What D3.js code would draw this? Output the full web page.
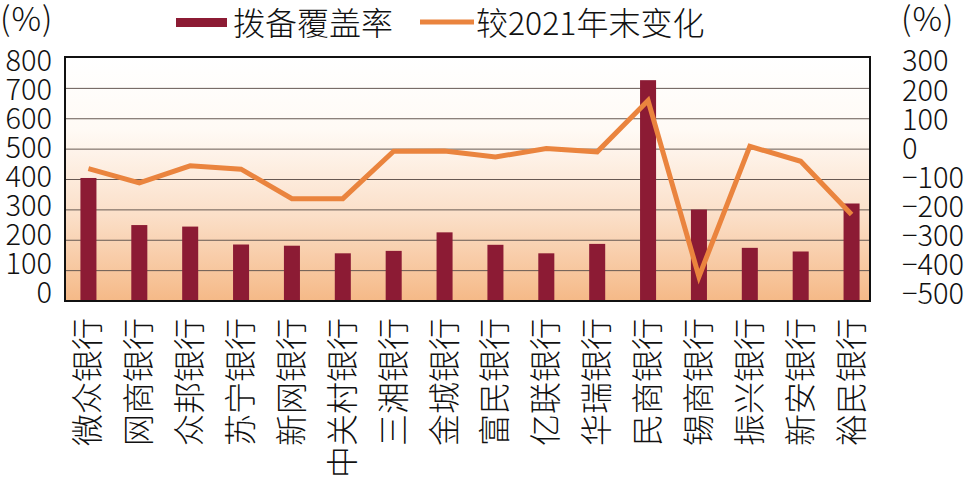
<!DOCTYPE html>
<html>
<head>
<meta charset="utf-8">
<script src="https://cdn.jsdelivr.net/npm/d3@7"></script>
<style>
  html, body { margin: 0; padding: 0; background: #fff; }
  svg { display: block; }
  text { font-family: "Noto Sans CJK SC", "Noto Sans", sans-serif; font-weight: 300; fill: #111; }
</style>
</head>
<body>
<svg class="chart"></svg>
<script>
var banks = ["微众银行", "网商银行", "众邦银行", "苏宁银行", "新网银行", "中关村银行", "三湘银行", "金城银行",
             "富民银行", "亿联银行", "华瑞银行", "民商银行", "锡商银行", "振兴银行", "新安银行", "裕民银行"];
// 拨备覆盖率 (%)
var coverage = [405, 250, 245, 186, 182, 157, 165, 226, 185, 157, 188, 727, 301, 175, 163, 321];
// 较2021年末变化 (百分点)
var change = [-64, -111, -55, -66, -163, -163, -7, -6, -26, 2, -9, 160, -420, 9, -40, -215];

var leftTicks = [0, 100, 200, 300, 400, 500, 600, 700, 800];
var rightTicks = [-500, -400, -300, -200, -100, 0, 100, 200, 300];
var legendNames = ["拨备覆盖率", "较2021年末变化"];

var width = 975, height = 479;
var frame = {left: 65, right: 870, top: 57, bottom: 301};

var barColor = "#8c1b34";
var lineColor = "#ea843e";

var svg = d3.select(".chart").attr("width", width).attr("height", height);

var grad = svg.append("defs").append("linearGradient")
    .attr("id", "bg").attr("x1", 0).attr("y1", 0).attr("x2", 0).attr("y2", 1);
grad.append("stop").attr("offset", "0%").attr("stop-color", "#ffffff");
grad.append("stop").attr("offset", "30%").attr("stop-color", "#fffaf5");
grad.append("stop").attr("offset", "65%").attr("stop-color", "#fbdfc8");
grad.append("stop").attr("offset", "100%").attr("stop-color", "#f5b987");

var x = d3.scaleBand().domain(banks).range([63, 877]).paddingInner(0.685).paddingOuter(0.3425);
var yL = d3.scaleLinear().domain([0, 800]).range([frame.bottom, 58]);
var yR = d3.scaleLinear().domain([-500, 300]).range([frame.bottom, 58]);
// tick labels sit a little tighter than the grid
var yLabL = d3.scaleLinear().domain([0, 800]).range([293, 61]);
var yLabR = d3.scaleLinear().domain([-500, 300]).range([294, 61]);

svg.append("rect")
    .attr("x", frame.left).attr("y", frame.top)
    .attr("width", frame.right - frame.left).attr("height", frame.bottom - frame.top)
    .attr("fill", "url(#bg)");

// grid
svg.append("g").selectAll("line")
    .data(leftTicks.filter(function(d) { return d > 0 && d < 800; }))
    .enter().append("line")
    .attr("x1", frame.left).attr("x2", frame.right)
    .attr("y1", function(d) { return yL(d); }).attr("y2", function(d) { return yL(d); })
    .attr("stroke", "#665852").attr("stroke-width", 1);

// bars
svg.append("g").selectAll("rect")
    .data(coverage)
    .enter().append("rect")
    .attr("x", function(d, i) { return x(banks[i]); })
    .attr("width", x.bandwidth())
    .attr("y", function(d) { return yL(d); })
    .attr("height", function(d) { return yL(0) - yL(d); })
    .attr("fill", barColor);

// line
var line = d3.line()
    .x(function(d, i) { return x(banks[i]) + x.bandwidth() / 2; })
    .y(function(d) { return yR(d); });

svg.append("path")
    .datum(change)
    .attr("d", line)
    .attr("fill", "none")
    .attr("stroke", lineColor)
    .attr("stroke-width", 5);

// frame
svg.append("rect")
    .attr("x", frame.left).attr("y", frame.top)
    .attr("width", frame.right - frame.left).attr("height", frame.bottom - frame.top)
    .attr("fill", "none").attr("stroke", "#111").attr("stroke-width", 2);

// axis labels
svg.append("g").selectAll("text")
    .data(leftTicks)
    .enter().append("text")
    .attr("x", 52).attr("y", function(d) { return yLabL(d); })
    .attr("text-anchor", "end").attr("dy", "0.36em")
    .style("font-size", "29px")
    .text(function(d) { return d; });

svg.append("g").selectAll("text")
    .data(rightTicks)
    .enter().append("text")
    .attr("x", 902).attr("y", function(d) { return yLabR(d); })
    .attr("dy", "0.36em")
    .style("font-size", "29px")
    .text(function(d) { return d < 0 ? "\u2212" + (-d) : d; });

svg.append("text").attr("x", 0).attr("y", 31).style("font-size", "33px").style("letter-spacing", "1px").text("(%)");
svg.append("text").attr("x", 901).attr("y", 31).style("font-size", "33px").style("letter-spacing", "1px").text("(%)");

// category labels
svg.append("g").selectAll("text")
    .data(banks)
    .enter().append("text")
    .attr("transform", function(d) {
        return "translate(" + (x(d) + x.bandwidth() / 2 - 3) + ",318) rotate(-90)";
    })
    .attr("text-anchor", "end")
    .attr("dominant-baseline", "central")
    .style("font-size", "32px")
    .text(function(d) { return d; });

// legend
var legend = svg.append("g");
legend.append("rect").attr("x", 176).attr("y", 18).attr("width", 51).attr("height", 9).attr("fill", barColor);
legend.append("text").attr("x", 233).attr("y", 35).style("font-size", "32px").text(legendNames[0]);
legend.append("line").attr("x1", 420).attr("x2", 474).attr("y1", 22).attr("y2", 22)
    .attr("stroke", lineColor).attr("stroke-width", 5);
legend.append("text").attr("x", 476).attr("y", 35).style("font-size", "32px").text(legendNames[1]);
</script>
</body>
</html>
